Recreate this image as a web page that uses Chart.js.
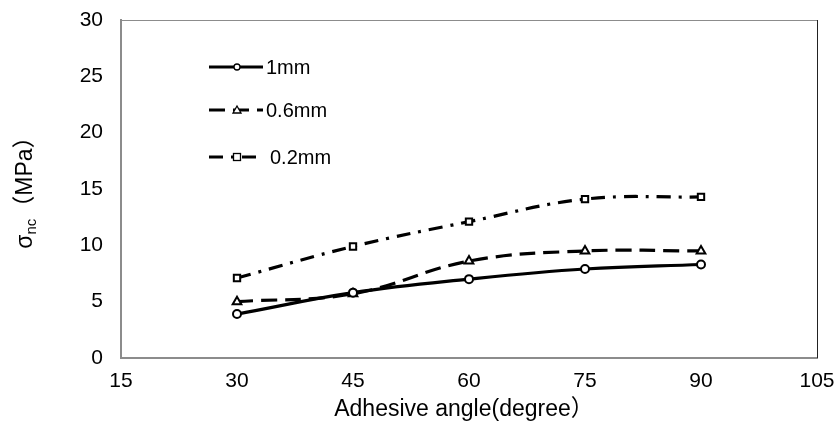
<!DOCTYPE html>
<html>
<head>
<meta charset="utf-8">
<script src="https://cdn.jsdelivr.net/npm/chart.js@4.4.1/dist/chart.umd.min.js"></script>
<style>
  body { margin: 0; background: #fff; }
  canvas { display: block; }
</style>
</head>
<body>
<canvas id="myChart" width="839" height="430"></canvas>
<script>
"use strict"

// data
const angles = [30, 45, 60, 75, 90];
const thick1mm = [3.9, 5.8, 7.0, 7.9, 8.3];
const thick06mm = [5.0, 5.7, 8.6, 9.5, 9.5];
const thick02mm = [7.1, 9.9, 12.1, 14.1, 14.3];
const seriesNames = ["1mm", "0.6mm", "0.2mm"];
const xTickValues = [15, 30, 45, 60, 75, 90, 105];
const yTickValues = [0, 5, 10, 15, 20, 25, 30];

const FONT = "'Liberation Sans', Arial, 'Noto Sans CJK SC', sans-serif";

function toPoints(values) {
    let pts = [];
    for (let i = 0; i < angles.length; i++) {
        pts.push({ x: angles[i], y: values[i] });
    }
    return pts;
}

// draws the legend, the axis titles and the top/right frame lines
const extras = {
    id: "extras",
    afterDraw(chart) {
        const ctx = chart.ctx;
        const area = chart.chartArea;
        ctx.save();

        // frame
        ctx.lineWidth = 1;
        ctx.strokeStyle = "#8c8c8c";
        ctx.beginPath();
        ctx.moveTo(area.left, area.top + 0.5);
        ctx.lineTo(area.right, area.top + 0.5);
        ctx.stroke();
        ctx.strokeStyle = "#222";
        ctx.beginPath();
        ctx.moveTo(area.right + 0.5, area.top);
        ctx.lineTo(area.right + 0.5, area.bottom);
        ctx.stroke();

        // legend
        const rowsY = [67, 110, 157];
        chart.data.datasets.forEach((ds, i) => {
            const y = rowsY[i];
            ctx.strokeStyle = "#000";
            ctx.lineWidth = 3;
            ctx.setLineDash(ds.borderDash || []);
            ctx.beginPath();
            ctx.moveTo(209, y);
            ctx.lineTo(263, y);
            ctx.stroke();
            ctx.setLineDash([]);
            ctx.lineWidth = 1.3;
            ctx.fillStyle = "#fff";
            ctx.strokeStyle = "#000";
            const mx = 237;
            if (ds.pointStyle === "circle") {
                ctx.beginPath();
                ctx.arc(mx, y, 3, 0, Math.PI * 2);
                ctx.fill();
                ctx.stroke();
            } else if (ds.pointStyle === "triangle") {
                ctx.beginPath();
                ctx.moveTo(mx, y - 4);
                ctx.lineTo(mx + 4, y + 3);
                ctx.lineTo(mx - 4, y + 3);
                ctx.closePath();
                ctx.fill();
                ctx.stroke();
            } else {
                ctx.fillRect(mx - 3.5, y - 3.5, 7, 7);
                ctx.strokeRect(mx - 3.5, y - 3.5, 7, 7);
            }
            ctx.fillStyle = "#000";
            ctx.font = "20px " + FONT;
            ctx.textAlign = "left";
            ctx.textBaseline = "middle";
            ctx.fillText(ds.label, i === 2 ? 270 : 266, y + 1);
        });

        // x axis title
        ctx.fillStyle = "#000";
        ctx.font = "23px " + FONT;
        ctx.textAlign = "center";
        ctx.textBaseline = "middle";
        ctx.fillText("Adhesive angle(degree）", 464, 410);

        // y axis title with subscript
        ctx.translate(24, 187);
        ctx.rotate(-Math.PI / 2);
        const p1 = "σ", p2 = "nc", p3 = "（MPa）";
        ctx.font = "23px " + FONT;
        const w1 = ctx.measureText(p1).width;
        const w3 = ctx.measureText(p3).width;
        ctx.font = "15px " + FONT;
        const w2 = ctx.measureText(p2).width;
        let x0 = -(w1 + w2 + w3) / 2;
        ctx.textAlign = "left";
        ctx.textBaseline = "alphabetic";
        ctx.font = "23px " + FONT;
        ctx.fillText(p1, x0, 8);
        ctx.font = "15px " + FONT;
        ctx.fillText(p2, x0 + w1, 12);
        ctx.font = "23px " + FONT;
        ctx.fillText(p3, x0 + w1 + w2, 8);
        ctx.restore();
    }
};

const baseDs = {
    borderColor: "#000",
    borderWidth: 3.2,
    pointBackgroundColor: "#fff",
    pointBorderColor: "#000",
    pointBorderWidth: 2,
    pointRadius: 4,
    tension: 0.4,
    fill: false
};

const ctx = document.getElementById("myChart").getContext("2d");
const myChart = new Chart(ctx, {
    type: "line",
    data: {
        datasets: [
            Object.assign({}, baseDs, {
                label: seriesNames[0],
                data: toPoints(thick1mm),
                pointStyle: "circle"
            }),
            Object.assign({}, baseDs, {
                label: seriesNames[1],
                data: toPoints(thick06mm),
                borderDash: [16, 8],
                pointStyle: "triangle",
                pointRadius: 5
            }),
            Object.assign({}, baseDs, {
                label: seriesNames[2],
                data: toPoints(thick02mm),
                borderDash: [14, 8, 3, 8],
                pointStyle: "rect",
                pointRadius: 4.5
            })
        ]
    },
    options: {
        responsive: false,
        animation: false,
        devicePixelRatio: 1,
        layout: { padding: { top: 20, right: 22, left: 0, bottom: 0 } },
        plugins: {
            legend: { display: false },
            tooltip: { enabled: false }
        },
        scales: {
            x: {
                type: "linear",
                min: 15,
                max: 105,
                afterBuildTicks: (axis) => { axis.ticks = xTickValues.map(v => ({ value: v })); },
                afterFit: (axis) => {
                    axis.height = 72;
                    axis.paddingLeft = 0;
                    axis.paddingRight = 0;
                },
                ticks: { color: "#000", font: { size: 21, family: FONT }, padding: 11, maxRotation: 0 },
                grid: { display: false, drawTicks: false },
                border: { color: "#8c8c8c", width: 2 }
            },
            y: {
                min: 0,
                max: 30,
                afterBuildTicks: (axis) => { axis.ticks = yTickValues.map(v => ({ value: v })); },
                afterFit: (axis) => {
                    axis.width = 121;
                    axis.paddingTop = 0;
                    axis.paddingBottom = 0;
                },
                ticks: { color: "#000", font: { size: 21, family: FONT }, padding: 18 },
                grid: { display: false, drawTicks: false },
                border: { color: "#8c8c8c", width: 2 }
            }
        }
    },
    plugins: [extras]
});
</script>
</body>
</html>
